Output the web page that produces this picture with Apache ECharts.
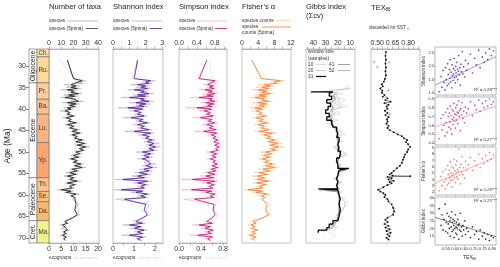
<!DOCTYPE html>
<html><head><meta charset="utf-8">
<script src="https://cdn.jsdelivr.net/npm/echarts@6/dist/echarts.min.js"></script>
<style>html,body{margin:0;padding:0;background:#fff}#c{width:500px;height:267px}</style>
</head><body><div id="c"></div>
<script>
// ---------------- DATA ----------------
const stageNames = ['Ch.','Ru.','Pr.','Ba.','Lu.','Yp.','Th.','Se.','Da.','Ma.'];
const stageStart = [23.03,27.82,33.9,37.71,41.2,47.8,56.0,59.2,61.6,66.0];
const stageEnd   = [27.82,33.9,37.71,41.2,47.8,56.0,59.2,61.6,66.0,72.1];
const epochNames = ['Oligocene','Eocene','Paleocene','Cret.'];
const epochStart = [23.03,33.9,56.0,66.0];
const epochEnd   = [33.9,56.0,66.0,72.1];
const ageTicks = [30,35,40,45,50,55,60,65,70];

const ages = [28.6,32.9,33.4,33.7,34.0,34.3,34.6,34.9,35.2,35.5,35.8,36.1,36.4,36.7,37.0,37.3,37.6,37.9,38.2,38.5,38.8,39.1,39.4,39.7,40.0,40.4,40.8,41.2,41.6,42.0,42.4,42.8,43.2,43.6,44.0,44.4,44.8,45.2,45.6,46.0,46.4,46.8,47.2,47.6,48.0,48.4,48.8,49.2,49.6,50.0,50.4,50.8,51.2,51.6,52.0,52.4,52.8,53.2,53.6,54.0,54.4,54.8,55.2,55.6,56.0,56.4,56.8,57.2,57.6,58.0,58.4,58.8,59.1,59.4,59.8,60.2,60.6,61.0,62.2,63.5,64.6,65.4,66.2,66.6,67.0,67.4,67.8,68.2,68.6,69.0,69.4,69.8,70.2,70.6];
const agesSmooth = [28.6,32.9,33.5,34.5,35.5,36.5,37.5,38.5,39.5,40.5,41.5,42.5,43.5,44.5,45.5,46.5,47.5,48.5,49.5,50.5,51.5,52.5,53.5,54.5,55.5,56.5,57.5,58.5,59.5,60.5,61.5,63.0,64.5,65.5,66.5,67.5,68.5,69.5,70.5];

const taxaSpecies = [15,20,30,22,28,12,25,14,26,10, 22,16,27,12,24,9,22,18,28,11, 25,15,23,12,20,9,18,14,22,11, 19,15,24,13,21,16,25,18,27,17, 24,20,29,21,31,22,33,24,30,21, 27,18,26,16,24,19,28,20,30,17, 25,14,24,12,22,15,26,13,23,16, 21,7,20,12,25,17,22,19,24,21, 25,18,12,16,9,14,10,17,11,15, 9,16,12,14];
const taxaSpecies5 = [15,20,27,24,25,18,22,18,23,15, 20,18,24,16,21,13,20,19,24,15, 22,17,21,15,18,13,17,15,20,14, 18,16,22,15,20,17,23,19,25,19, 23,21,27,22,29,23,30,25,28,22, 25,20,24,18,23,20,26,21,27,19, 23,17,22,15,20,17,23,15,21,17, 19,10,18,14,22,18,21,20,22,21, 23,19,13,15,11,13,12,15,12,14, 11,14,12,13];
const taxaEco = [4.5,10.5,11,10,9,9.5,9,9.5,8.5,8,8,8.5,9,9.5,10,10,10.5,11,11,10.5,10,10.5,11,10,9,9,8.5,8,8.5,9.5,11,12,12,9,6.5,6,6.5,6,6.5];

const shSpecies = [1.5,1.2,2.6,1.8,2.4,1.1,2.2,1.4,2.3,0.9, 2.1,1.5,2.5,1.2,2.2,0.5,2.0,1.6,2.5,1.0, 2.3,1.4,2.1,0.3,1.9,1.0,1.8,1.3,2.1,0.6, 1.9,1.4,2.3,1.2,2.0,1.5,2.4,0.7,2.5,1.5, 2.3,1.8,2.6,1.9,2.8,2.0,2.9,2.1,2.7,1.4, 2.5,1.7,2.4,1.5,2.3,1.9,2.6,1.8,2.7,1.6, 2.4,1.3,2.3,1.1,2.1,0.1,2.4,1.2,2.2,1.5, 2.0,0.1,1.9,1.1,2.3,1.5,2.1,0.2,2.2,2.0, 2.3,1.7,1.2,2.0,0.6,1.8,1.0,2.1,1.3,1.9, 0.5,2.0,1.4,1.8];
const shSpecies5 = [1.5,1.3,2.3,2.0,2.2,1.5,2.0,1.7,2.1,1.3, 1.9,1.7,2.2,1.5,2.0,1.0,1.9,1.7,2.2,1.4, 2.0,1.6,1.9,0.9,1.8,1.3,1.7,1.5,1.9,1.1, 1.8,1.6,2.1,1.5,1.9,1.7,2.2,1.3,2.3,1.8, 2.2,2.0,2.4,2.1,2.5,2.2,2.6,2.2,2.5,1.8, 2.3,1.9,2.2,1.8,2.1,2.0,2.3,2.0,2.4,1.9, 2.2,1.6,2.1,1.5,1.9,0.6,2.1,1.5,2.0,1.7, 1.9,0.5,1.8,1.4,2.1,1.7,2.0,0.7,2.0,1.9, 2.1,1.8,1.4,1.8,1.0,1.7,1.3,1.9,1.5,1.8, 1.0,1.8,1.5,1.7];
const shEco = [1.1,1.3,1.7,1.6,1.5,1.6,1.5,1.6,1.4,1.3,1.4,1.4,1.5,1.6,1.6,1.7,1.7,1.8,1.8,1.7,1.7,1.7,1.8,1.6,1.5,1.5,1.4,1.3,1.4,1.5,1.7,1.2,1.6,1.5,1.2,1.1,1.2,1.1,1.2];

const siSpecies = [0.62,0.42,0.86,0.70,0.84,0.55,0.80,0.62,0.82,0.45, 0.78,0.60,0.85,0.52,0.80,0.25,0.76,0.65,0.86,0.48, 0.82,0.58,0.78,0.15,0.74,0.45,0.72,0.55,0.80,0.30, 0.76,0.60,0.84,0.52,0.78,0.62,0.86,0.35,0.88,0.65, 0.85,0.72,0.90,0.75,0.92,0.78,0.93,0.80,0.91,0.60, 0.88,0.70,0.86,0.62,0.84,0.74,0.89,0.70,0.90,0.66, 0.86,0.55,0.84,0.48,0.80,0.05,0.86,0.52,0.82,0.62, 0.78,0.05,0.76,0.50,0.84,0.66,0.80,0.10,0.82,0.78, 0.84,0.70,0.55,0.78,0.30,0.74,0.48,0.80,0.56,0.76, 0.25,0.78,0.58,0.72];
const siSpecies5 = [0.62,0.45,0.80,0.74,0.78,0.64,0.76,0.68,0.78,0.58, 0.74,0.66,0.80,0.62,0.76,0.45,0.74,0.68,0.80,0.60, 0.78,0.64,0.74,0.40,0.72,0.56,0.70,0.62,0.76,0.48, 0.73,0.66,0.80,0.62,0.76,0.68,0.82,0.55,0.84,0.72, 0.82,0.76,0.86,0.78,0.88,0.80,0.89,0.82,0.87,0.70, 0.84,0.74,0.82,0.70,0.81,0.76,0.85,0.74,0.86,0.72, 0.82,0.64,0.80,0.60,0.77,0.30,0.80,0.62,0.78,0.68, 0.75,0.28,0.73,0.60,0.80,0.70,0.77,0.35,0.78,0.76, 0.80,0.74,0.62,0.74,0.45,0.70,0.58,0.76,0.64,0.72, 0.42,0.74,0.64,0.70];
const siEco = [0.55,0.60,0.72,0.70,0.68,0.70,0.68,0.70,0.66,0.64,0.66,0.66,0.68,0.70,0.70,0.72,0.72,0.74,0.74,0.72,0.72,0.72,0.74,0.70,0.68,0.68,0.66,0.64,0.66,0.68,0.72,0.60,0.70,0.68,0.60,0.58,0.60,0.58,0.60];

const fiSpecies = [2.4,4.8,10.5,7.0,9.5,4.0,8.0,3.5,7.5,2.5, 6.5,4.0,8.0,3.0,6.5,2.0,6.0,4.5,7.5,2.5, 6.5,3.5,6.0,2.0,5.5,2.5,5.0,3.5,6.5,2.5, 5.5,3.5,7.0,3.0,6.0,4.0,7.5,3.0,8.5,4.5, 7.5,5.5,9.0,6.0,10.0,6.5,10.5,6.5,9.0,4.5, 8.0,4.5,7.5,4.0,7.0,5.0,8.5,5.0,9.0,4.0, 7.5,3.0,7.0,2.5,6.0,3.0,7.5,2.5,6.5,3.5, 5.5,0.5,5.5,2.5,7.0,4.0,6.0,4.5,7.0,6.0, 7.0,4.5,2.0,3.5,1.5,3.0,1.8,4.0,2.0,3.5, 1.2,3.5,2.0,3.0];
const fiSpecies5 = [2.4,4.8,9.5,8.0,8.5,5.5,7.0,5.0,6.5,4.0, 6.0,4.8,7.0,4.2,5.8,3.2,5.5,5.0,6.5,3.8, 6.0,4.3,5.5,3.2,5.0,3.5,4.8,4.2,5.8,3.5, 5.2,4.3,6.2,4.0,5.5,4.8,6.5,4.2,7.5,5.5, 7.0,6.2,8.0,6.5,8.8,7.0,9.0,7.2,8.2,5.8, 7.2,5.5,6.8,5.0,6.5,5.6,7.5,5.8,8.0,5.2, 6.8,4.2,6.2,3.8,5.5,3.8,6.5,3.6,5.8,4.3, 5.0,1.5,5.0,3.5,6.2,4.8,5.6,5.0,6.2,5.8, 6.5,5.0,2.8,3.5,2.2,3.2,2.5,3.8,2.6,3.3, 2.0,3.3,2.6,3.0];

const gibbsAges = [34.4,35.2,36.0,36.3,37.0,37.8,38.6,39.4,40.2,41.0,41.8,42.6,43.4,44.2,45.0,45.8,46.6,47.4,48.2,49.0,49.8,50.6,51.4,52.2,53.0,53.8,54.2,54.6,55.4,56.2,57.0,57.8,58.6,58.9,59.3,60.1,60.9,62.0,63.5,65.0,66.0,66.8,67.6,68.2,68.8,69.5,70.2];
const gibbs10 = [12,9,30,16,22,14,20,12,24,18,26,20,30,22,18,14,22,16,20,24,16,12,20,22,17,19,12,21,18,24,16,22,18,34,17,20,14,12,16,22,18,28,20,30,26,22,25];
const gibbs20 = [14,11,34,20,24,18,23,17,26,22,28,23,27,22,19,17,21,18,20,22,17,14,19,21,18,19,14,20,19,23,18,21,19,35,18,19,16,14,16,20,20,26,24,30,32,null,null];
const gibbs31 = [null,null,42,24,27,25,29,26,28,30,27,29,25,24,21,20,21,19,20,19,20,18,19,21,20,20,11,19,20,21,20,21,20,36,20,19,18,19,18,19,20,24,27,29,36,null,null];
const gibbs41 = [null,null,null,22,24,22,27,24,25,27,26,27,24,23,21,20,21,20,20,20,19,17,19,20,20,19,14,19,20,21,20,21,20,30,20,19,19,19,19,20,21,23,25,27,null,null,null];
const gibbs52 = [null,null,null,null,23,22,25,24,24,25,25,25,24,23,22,21,21,20,20,20,20,18,19,20,20,19,16,19,20,20,20,20,20,27,20,19,19,19,19,20,21,22,24,null,null,null,null];

const texAges = [26.7,27.6,28.5,29.4,30.3,31.2,32.1,33.0,33.6,34.2,34.7,35.2,35.7,36.2,36.7,37.1,37.5,37.9,38.3,38.6,39.0,39.4,39.9,40.4,40.9,41.4,41.9,42.4,42.9,43.4,43.9,44.4,44.9,45.4,45.9,46.3,46.8,47.2,47.7,48.2,48.8,49.4,50.0,50.6,51.2,51.8,52.5,53.2,53.8,54.4,54.9,55.2,55.5,55.65,55.8,56.1,56.4,56.7,57.0,57.3,57.7,58.2,58.8,59.2,59.6,60.0,60.5,61.0,61.5,62.2,63.0,63.8,64.6,65.3,65.8,66.3,66.8,67.2,67.6,68.0,68.4,68.8,69.2,69.6,70.0,70.4];
const texVals = [0.585,0.58,0.585,0.58,0.585,0.58,0.585,0.575,0.565,0.545,0.555,0.53,0.55,0.545,0.57,0.555,0.60,0.58,0.63,0.57,0.61,0.59,0.60,0.575,0.60,0.58,0.61,0.595,0.60,0.59,0.61,0.60,0.62,0.66,0.70,0.74,0.76,0.79,0.78,0.80,0.82,0.80,0.79,0.77,0.76,0.75,0.74,0.72,0.69,0.66,0.64,0.62,0.65,0.82,0.60,0.64,0.61,0.66,0.62,0.64,0.60,0.56,0.51,0.53,0.56,0.58,0.57,0.60,0.61,0.64,0.655,0.665,0.655,0.60,0.58,0.60,0.57,0.61,0.58,0.62,0.59,0.63,0.60,0.62,0.59,0.61];
const texDiscardAges = [29.0,29.2,30.2,35.6,41.3,63.2];
const texDiscardVals = [0.47,0.615,0.50,0.61,0.62,0.66];

const scTex = [0.512,0.523,0.528,0.534,0.539,0.545,0.548,0.551,0.556,0.559,0.562,0.566,0.568,0.571,0.573,0.576,0.578,0.581,0.583,0.585,0.588,0.590,0.592,0.594,0.596,0.598,0.601,0.603,0.605,0.607,0.609,0.612,0.614,0.617,0.619,0.622,0.625,0.628,0.631,0.634,0.638,0.642,0.646,0.651,0.656,0.662,0.671,0.683,0.694,0.706,0.715,0.728,0.736,0.748,0.757,0.766,0.777,0.786,0.796,0.808];
const scShannon = [1.05,1.62,1.22,1.85,1.40,1.12,1.95,1.50,1.28,2.10,1.70,1.35,1.88,1.55,2.25,1.42,1.78,1.20,2.05,1.65,1.48,1.92,1.72,2.30,1.58,1.85,1.38,2.00,1.76,1.62,2.15,1.90,1.50,1.82,2.40,1.68,1.95,1.30,2.08,1.80,2.55,1.72,1.98,1.60,2.22,1.85,2.10,2.45,1.75,2.30,2.05,2.60,1.95,2.35,2.15,2.50,2.25,2.65,2.40,2.58];
const scSimpson = [0.45,0.68,0.55,0.72,0.60,0.48,0.75,0.63,0.52,0.79,0.70,0.58,0.74,0.64,0.82,0.56,0.71,0.50,0.78,0.67,0.61,0.76,0.69,0.85,0.65,0.73,0.57,0.80,0.72,0.66,0.83,0.75,0.62,0.74,0.88,0.70,0.77,0.54,0.79,0.72,0.86,0.68,0.76,0.63,0.81,0.74,0.79,0.87,0.71,0.83,0.78,0.89,0.76,0.85,0.80,0.88,0.82,0.90,0.84,0.87];
const scFisher = [2.2,4.5,3.0,5.2,3.6,2.5,5.6,4.0,3.1,6.2,4.8,3.4,5.5,4.2,6.8,3.8,5.0,2.8,6.0,4.6,3.9,5.8,4.9,7.2,4.3,5.4,3.5,6.3,5.1,4.4,6.9,5.6,4.1,5.3,8.8,4.7,5.9,3.3,6.4,5.2,7.6,4.8,5.9,4.2,6.9,5.5,6.3,7.5,5.4,7.0,6.2,8.0,5.9,7.3,6.5,7.8,6.9,8.3,7.2,7.9];
const scGibbs = [33,22,29,19,26,36,18,24,30,17,23,28,20,25,15,27,21,31,18,24,26,19,22,14,25,20,29,17,21,24,16,20,26,22,13,23,19,30,18,21,15,22,19,25,16,20,18,14,21,16,18,13,19,15,17,13,16,12,15,14];
const regX = [0.49,0.822];
const regShannon = [1.30,2.36];
const regSimpson = [0.585,0.82];
const regFisher = [3.39,7.62];
const regGibbs = [27.3,14.6];
const r2Labels = ['R² = 0.28***','R² = 0.27***','R² = 0.29***','R² = 0.25***'];

// ---------------- STYLE / LAYOUT ----------------
const FONT = '"Liberation Sans", Arial, Helvetica, sans-serif';
const stageColors = ['#fee6aa','#fed99a','#fdcda1','#fdc091','#fcb482','#fca773','#fdc387','#fdbf7c','#fdb86f','#f4f28e'];
const AGE_MIN = 26, AGE_MAX = 71.2, TOP = 49, H = 194;

const grids = [], xAxes = [], yAxes = [], series = [], gfx = [];
function addGrid(g){ grids.push(g); return grids.length - 1; }
function addX(o){ xAxes.push(o); return xAxes.length - 1; }
function addY(o){ yAxes.push(o); return yAxes.length - 1; }
const pairsXY = (xs, ys) => xs.map((v, i) => [v, ys[i]]).filter(p => p[0] != null && p[1] != null);

function tsGrid(left, width, show){
  return addGrid({left, top: TOP, width, height: H, show: show !== false, borderColor: '#b4b4b4', borderWidth: 0.8, backgroundColor: 'transparent'});
}
function ageAxis(gi){
  return addY({gridIndex: gi, type: 'value', min: AGE_MIN, max: AGE_MAX, inverse: true, show: false});
}
function valAxis(gi, pos, min, max, ticks, labels, fmt, inverse){
  return addX({gridIndex: gi, type: 'value', position: pos, min, max, inverse: !!inverse,
    axisLine: {show: true, onZero: false, lineStyle: {color: '#a8a8a8', width: 0.8}},
    axisTick: {show: true, inside: false, length: 2.5, lineStyle: {color: '#888', width: 0.6}, customValues: ticks},
    axisLabel: {show: true, fontSize: 7, color: '#333', fontFamily: FONT, margin: 2.5, customValues: labels, formatter: fmt},
    splitLine: {show: false}, minorTick: {show: false}});
}
function line(xi, yi, data, color, width, dash, z){
  series.push({type: 'line', xAxisIndex: xi, yAxisIndex: yi, data, symbol: 'none', silent: true, z: z || 2,
    lineStyle: {color, width, type: dash || 'solid'}, animation: false});
}
function T(x, y, str, size, o){
  o = o || {};
  gfx.push({type: 'text', x, y, silent: true, rotation: o.rot || 0,
    style: {text: str, fontSize: size, fontFamily: FONT, fill: o.color || '#222', fontStyle: o.italic ? 'italic' : 'normal',
      align: o.align || 'left', textAlign: o.align || 'left', verticalAlign: 'middle', textVerticalAlign: 'middle'}});
}
function L(x1, y1, x2, y2, color, w, dash){
  gfx.push({type: 'line', silent: true, shape: {x1, y1, x2, y2}, style: {stroke: color, lineWidth: w, lineDash: dash || null}});
}

// ---- time scale ----
const g0 = tsGrid(29, 20, false);
const x0 = addX({gridIndex: g0, type: 'value', min: 0, max: 2, show: false});
const y0 = addY({gridIndex: g0, type: 'value', min: AGE_MIN, max: AGE_MAX, inverse: true, position: 'left',
  name: 'Age (Ma)', nameLocation: 'middle', nameGap: 17, nameRotate: 90,
  nameTextStyle: {fontSize: 8.5, color: '#222', fontFamily: FONT},
  axisLine: {show: true, lineStyle: {color: '#555', width: 0.8}},
  axisTick: {show: true, inside: false, length: 3, lineStyle: {color: '#555', width: 0.7}, customValues: ageTicks},
  axisLabel: {fontSize: 7, color: '#333', fontFamily: FONT, margin: 3, customValues: ageTicks},
  splitLine: {show: false}});
const scaleData = [];
epochNames.forEach((n, i) => scaleData.push([0, 0.8, epochStart[i], epochEnd[i], 0, i]));
stageNames.forEach((n, i) => scaleData.push([0.8, 2, stageStart[i], stageEnd[i], 1, i]));
series.push({type: 'custom', xAxisIndex: x0, yAxisIndex: y0, silent: true, animation: false,
  encode: {x: [0, 1], y: [2, 3]}, data: scaleData,
  renderItem(params, api){
    const a = Math.max(api.value(2), AGE_MIN), b = Math.min(api.value(3), AGE_MAX);
    const p0 = api.coord([api.value(0), a]), p1 = api.coord([api.value(1), b]);
    const kind = api.value(4), idx = api.value(5);
    const fill = kind === 0 ? '#fff' : stageColors[idx];
    const name = kind === 0 ? epochNames[idx] : stageNames[idx];
    const cx = (p0[0] + p1[0]) / 2, cy = (p0[1] + p1[1]) / 2;
    return {type: 'group', children: [
      {type: 'rect', shape: {x: p0[0], y: p0[1], width: p1[0] - p0[0], height: p1[1] - p0[1]},
        style: {fill, stroke: '#666', lineWidth: 0.6}},
      kind === 0 ?
        {type: 'text', x: cx, y: cy, rotation: Math.PI / 2,
          style: {text: name, fontSize: 6.8, fontFamily: FONT, fill: '#222', align: 'center', verticalAlign: 'middle'}} :
        {type: 'text', x: p0[0] + 1.5, y: cy,
          style: {text: name, fontSize: 6.3, fontFamily: FONT, fill: '#333', align: 'left', verticalAlign: 'middle'}}
    ]};
  }});

// ---- Number of taxa ----
const g1 = tsGrid(49, 50);
const y1 = ageAxis(g1);
const x1t = valAxis(g1, 'top', 0, 40.8, [0,10,20,30,40], [0,10,20,30,40]);
const x1b = valAxis(g1, 'bottom', 0, 20.4, [0,5,10,15,20], [0,5,10,15,20]);
line(x1t, y1, pairsXY(taxaSpecies, ages), '#a6a6a6', 0.6);
line(x1b, y1, pairsXY(taxaEco, agesSmooth), '#b0b0b0', 0.8, 'dotted');
line(x1t, y1, pairsXY(taxaSpecies5, ages), '#161616', 0.8, null, 3);

// ---- Shannon ----
const g2 = tsGrid(113, 50);
const y2 = ageAxis(g2);
const x2t = valAxis(g2, 'top', 0, 3.05, [0,0.5,1,1.5,2,2.5,3], [0,1,2,3]);
const x2b = valAxis(g2, 'bottom', 0, 2.38, [0,0.5,1,1.5,2], [0,1,2]);
line(x2t, y2, pairsXY(shSpecies, ages), '#bba6d9', 0.6);
line(x2b, y2, pairsXY(shEco, agesSmooth), '#c9b6e4', 0.8, 'dotted');
line(x2t, y2, pairsXY(shSpecies5, ages), '#4d1a86', 0.8, null, 3);

// ---- Simpson ----
const g3 = tsGrid(179, 48);
const y3 = ageAxis(g3);
const f1 = v => v.toFixed(1);
const x3t = valAxis(g3, 'top', 0, 1.07, [0,0.2,0.4,0.6,0.8,1.0], [0,0.4,0.8], f1);
const x3b = valAxis(g3, 'bottom', 0, 0.87, [0,0.2,0.4,0.6,0.8], [0,0.4,0.8], f1);
line(x3t, y3, pairsXY(siSpecies, ages), '#f2a9cd', 0.6);
line(x3b, y3, pairsXY(siEco, agesSmooth), '#f0b3d3', 0.8, 'dotted');
line(x3t, y3, pairsXY(siSpecies5, ages), '#b5136f', 0.8, null, 3);

// ---- Fisher ----
const g4 = tsGrid(242, 49);
const y4 = ageAxis(g4);
const x4t = valAxis(g4, 'top', 0, 12.05, [0,2,4,6,8,10,12], [0,4,8,12]);
line(x4t, y4, pairsXY(fiSpecies, ages), '#fdcf9f', 0.7);
line(x4t, y4, pairsXY(fiSpecies5, ages), '#f07a33', 0.8, null, 3);

// ---- Gibbs ----
const g5 = tsGrid(306, 49);
const y5 = ageAxis(g5);
const x5t = valAxis(g5, 'top', 6, 46, [10,15,20,25,30,35,40,45], [10,20,30,40], null, true);
function gline(vals, color, w, z, step){
  series.push({type: 'line', xAxisIndex: x5t, yAxisIndex: y5, data: pairsXY(vals, gibbsAges), symbol: 'none', silent: true,
    step: step || false, z: z || 2, lineStyle: {color, width: w}, animation: false});
}
gline(gibbs10, '#d6d6d6', 0.7);
gline(gibbs20, '#bcbcbc', 0.7);
gline(gibbs52, '#a9a9a9', 0.7);
gline(gibbs41, '#8a8a8a', 0.7);
gline(gibbs31, '#000000', 1.3, 4, 'end');

// ---- TEX86 ----
const g6 = tsGrid(371, 49);
const y6 = ageAxis(g6);
const x6t = valAxis(g6, 'top', 0.44, 0.915, [0.45,0.5,0.55,0.6,0.65,0.7,0.75,0.8,0.85,0.9], [0.5,0.65,0.8], v => v.toFixed(2));
series.push({type: 'line', xAxisIndex: x6t, yAxisIndex: y6, data: pairsXY(texVals, texAges), silent: true, animation: false,
  symbol: 'circle', symbolSize: 1.9, itemStyle: {color: '#111'}, lineStyle: {color: '#333', width: 0.6}});
const PLUS = 'path://M4,0H6V4H10V6H6V10H4V6H0V4H4Z';
series.push({type: 'scatter', xAxisIndex: x6t, yAxisIndex: y6, data: pairsXY(texDiscardVals, texDiscardAges), silent: true, animation: false,
  symbol: PLUS, symbolSize: 3.5, itemStyle: {color: '#9a9a9a'}});

// ---- scatter panels ----
const scTops = [47, 97, 147, 197];
const scDefs = [
  {name: 'Shannon index', ys: scShannon, reg: regShannon, min: 0.93, max: 2.72, ticks: [1.0,1.5,2.0,2.5], fmt: f1, col: '#5b2590', rc: '#a48bcc', r2: [474, 90]},
  {name: 'Simpson index', ys: scSimpson, reg: regSimpson, min: 0.377, max: 0.923, ticks: [0.4,0.5,0.6,0.7,0.8,0.9], fmt: f1, col: '#c2348a', rc: '#e9a3cb', r2: [474, 140]},
  {name: 'Fisher’s α', ys: scFisher, reg: regFisher, min: 1.52, max: 9.16, ticks: [2,3,4,5,6,7,8,9], fmt: null, col: '#f26a6a', rc: '#f6a6a0', r2: [474, 190]},
  {name: 'Gibbs index', ys: scGibbs, reg: regGibbs, min: 9.1, max: 40.7, ticks: [15,20,25,30,35,40], fmt: null, col: '#111', rc: '#777', r2: [474, 201]}
];
scDefs.forEach((d, k) => {
  const gi = addGrid({left: 435, top: scTops[k], width: 61, height: 48, show: true, borderColor: '#9a9a9a', borderWidth: 0.7});
  const last = k === 3;
  const xi = addX({gridIndex: gi, type: 'value', position: 'bottom', min: 0.49, max: 0.822,
    axisLine: {show: false}, splitLine: {show: false},
    axisTick: {show: true, length: 1.5, lineStyle: {color: '#888', width: 0.5}, customValues: [0.55,0.6,0.65,0.7,0.75,0.8]},
    axisLabel: {show: last, fontSize: 4.2, color: '#333', fontFamily: FONT, margin: 2, customValues: [0.55,0.6,0.65,0.7,0.75,0.8], formatter: v => v.toFixed(2)}});
  const yi = addY({gridIndex: gi, type: 'value', position: 'left', min: d.min, max: d.max,
    axisLine: {show: false}, splitLine: {show: false},
    axisTick: {show: true, length: 1.2, lineStyle: {color: '#888', width: 0.5}, customValues: d.ticks},
    axisLabel: {fontSize: 4, color: '#333', fontFamily: FONT, margin: 1, customValues: d.ticks, formatter: d.fmt}});
  series.push({type: 'line', xAxisIndex: xi, yAxisIndex: yi, data: pairsXY(regX, d.reg), symbol: 'none', silent: true,
    animation: false, lineStyle: {color: d.rc, width: 0.9}, z: 2});
  series.push({type: 'scatter', xAxisIndex: xi, yAxisIndex: yi, data: pairsXY(scTex, d.ys), silent: true, animation: false,
    symbol: 'circle', symbolSize: 1.7, itemStyle: {color: d.col, opacity: 0.85}, z: 3});
  T(d.r2[0], d.r2[1], r2Labels[k], 4.3, {color: '#333'});
  T(423.5, scTops[k] + 24, d.name, 4.5, {color: '#333', rot: Math.PI / 2, align: 'center'});
});
T(463, 258, 'TEX', 5, {color: '#333'});
T(472.5, 259.5, '86', 3.3, {color: '#333'});

// ---- titles ----
T(49, 7, 'Number of taxa', 7.6);
T(113, 7, 'Shannon index', 7.6);
T(179, 7, 'Simpson index', 7.6);
T(242, 7, 'Fisher’s α', 7.6);
T(306, 7, 'Gibbs index', 7.6);
T(306, 16, '(Σcv)', 7.6);
T(371, 7.5, 'TEX', 7.6);
T(385.5, 10, '86', 4.6);

// ---- legends ----
T(49, 21, 'species', 4.8, {color: '#333'}); L(67, 21, 98, 21, '#a6a6a6', 0.7);
T(49, 28.5, 'species (5ptma)', 4.8, {color: '#333'}); L(86, 28.5, 98, 28.5, '#333', 0.8);
T(49, 258, 'ecogroups', 4.8, {color: '#333'}); L(74, 258, 98, 258, '#b0b0b0', 0.8, [1, 1]);

T(113, 21, 'species', 4.8, {color: '#333'}); L(132, 21, 162, 21, '#bba6d9', 0.8);
T(113, 28.5, 'species (5ptma)', 4.8, {color: '#333'}); L(150, 28.5, 162, 28.5, '#4d1a86', 0.8);
T(113, 258, 'ecogroups', 4.8, {color: '#333'}); L(139, 258, 162, 258, '#c9b6e4', 0.8, [1, 1]);

T(179, 21, 'species', 4.8, {color: '#333'}); L(198, 21, 227, 21, '#f2a9cd', 0.8);
T(179, 28.5, 'species (5ptma)', 4.8, {color: '#333'}); L(215, 28.5, 227, 28.5, '#b5136f', 0.8);
T(179, 258, 'ecogroups', 4.8, {color: '#333'}); L(205, 258, 227, 258, '#f0b3d3', 0.8, [1, 1]);

T(242, 20.5, 'species counts', 4.8, {color: '#333'}); L(276, 20.5, 291, 20.5, '#fdcf9f', 0.8);
T(242, 27, 'species', 4.8, {color: '#333'}); L(262, 27, 291, 27, '#f07a33', 0.8);
T(242, 33, 'counts (5ptma)', 4.8, {color: '#333'});

T(308, 52, 'window size', 4.8, {color: '#333'});
T(308, 58.5, '(samples)', 4.8, {color: '#333'});
T(308, 64.5, '10', 4.8, {color: '#333'}); L(316, 64.5, 326, 64.5, '#d0d0d0', 0.8);
T(329, 64.5, '41', 4.8, {color: '#333'}); L(338, 64.5, 350, 64.5, '#8a8a8a', 0.8);
T(308, 70.5, '20', 4.8, {color: '#333'}); L(316, 70.5, 326, 70.5, '#bcbcbc', 0.8);
T(329, 70.5, '52', 4.8, {color: '#333'}); L(338, 70.5, 350, 70.5, '#a9a9a9', 0.8);
T(308, 76.5, '31', 4.8, {color: '#333'}); L(316, 76.5, 326, 76.5, '#000', 1.2);

T(369, 28, 'discarded for SST', 4.6, {color: '#333'});
gfx.push({type: 'text', x: 408, y: 28, silent: true, style: {text: '+', fontSize: 6, fill: '#999', align: 'center', verticalAlign: 'middle'}});

const chart = echarts.init(document.getElementById('c'), null, {renderer: 'canvas'});
chart.setOption({animation: false, backgroundColor: '#fff', textStyle: {fontFamily: FONT},
  grid: grids, xAxis: xAxes, yAxis: yAxes, series, graphic: {elements: gfx}});
</script></body></html>
